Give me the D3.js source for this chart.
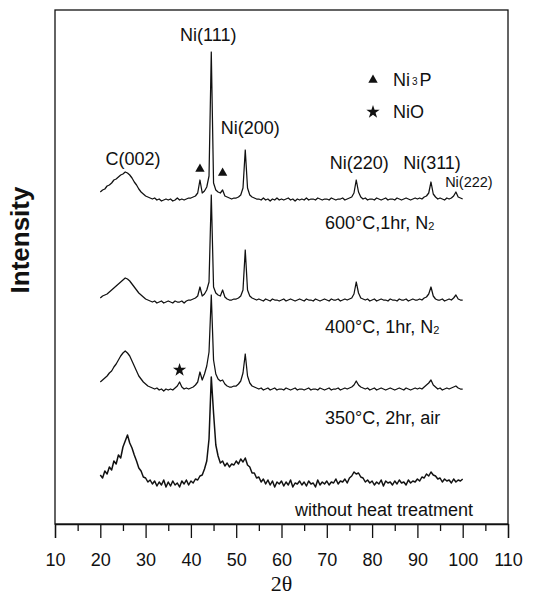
<!DOCTYPE html>
<html>
<head>
<meta charset="utf-8">
<script src="https://cdn.jsdelivr.net/npm/d3@7"></script>
<style>
  html, body { margin: 0; padding: 0; background: #fff; }
  svg { display: block; }
  text { font-family: "Liberation Sans", Arial, sans-serif; fill: #111; }
</style>
</head>
<body>
<svg id="chart" width="538" height="597"></svg>
<script>
// XRD patterns of Ni-coated carbon, sampled every 0.5° in 2θ from 20° to 100°.
const twoThetaStart = 20;
const twoThetaStep = 0.5;

const xTickValues = [10, 20, 30, 40, 50, 60, 70, 80, 90, 100, 110];
const xMinorTickValues = [15, 25, 35, 45, 55, 65, 75, 85, 95, 105];

const sampleLabels = ["600°C,1hr, N₂", "400°C, 1hr, N₂", "350°C, 2hr, air", "without heat treatment"];

// Vertical stacking offset of each pattern (a.u.)
const stackOffsets = [324, 222, 134, 39];

// Intensities above each pattern's own baseline (a.u.)
const pattern600N2 = [
  8, 10, 11, 14, 15, 17, 20, 21, 23, 25,
  26, 28, 27, 25, 22, 18, 15, 11, 8, 6,
  4, 3, 2, 1, 2, 0, 1, -1, 0, 1,
  0, 1, -1, 0, 2, 0, 1, 0, 1, 2,
  2, 3, 4, 7, 20, 7, 9, 13, 24, 148,
  17, 10, 8, 7, 10, 4, 3, 2, 1, 2,
  2, 3, 5, 12, 50, 12, 5, 3, 2, 1,
  1, 0, 2, 0, 1, -1, 1, 0, 2, 0,
  1, 0, 1, 2, 0, 1, -1, 1, 0, 1,
  0, 2, 0, 1, 1, 0, 2, 1, 0, 1,
  1, 0, 2, 1, 0, 1, 1, 2, 0, 1,
  2, 3, 7, 20, 8, 3, 1, 2, 0, 1,
  1, 0, 2, 1, 0, 1, 2, 0, 1, 1,
  0, 2, 1, 0, 1, 2, 1, 0, 1, 2,
  1, 2, 1, 3, 4, 7, 18, 6, 3, 1,
  2, 1, 0, 2, 1, 2, 4, 8, 3, 2,
  1
];

const pattern400N2 = [
  4, 6, 7, 8, 10, 12, 14, 16, 18, 20,
  22, 24, 23, 21, 18, 15, 12, 9, 7, 5,
  3, 2, 1, 0, 1, -1, 0, 1, -1, 0,
  1, 0, -1, 1, 0, 0, 1, -1, 1, 2,
  2, 3, 4, 6, 15, 6, 8, 12, 20, 107,
  15, 9, 7, 6, 12, 5, 3, 2, 2, 3,
  3, 4, 6, 12, 52, 12, 6, 4, 3, 2,
  3, 2, 1, 3, 2, 1, 3, 2, 2, 1,
  2, 3, 1, 2, 3, 2, 1, 2, 3, 2,
  1, 3, 2, 2, 1, 3, 2, 1, 2, 3,
  2, 1, 3, 2, 2, 3, 1, 2, 3, 2,
  3, 4, 8, 20, 9, 4, 3, 2, 3, 1,
  2, 3, 1, 2, 3, 2, 2, 1, 3, 2,
  2, 1, 3, 2, 2, 3, 1, 2, 3, 2,
  2, 3, 2, 4, 5, 8, 15, 6, 3, 2,
  2, 3, 1, 2, 3, 2, 4, 7, 3, 2,
  2
];

const pattern350Air = [
  8, 10, 12, 14, 17, 19, 23, 26, 30, 34,
  37, 39, 37, 34, 29, 24, 19, 14, 11, 8,
  6, 4, 3, 2, 1, 2, 0, 1, -1, 1,
  0, 1, 0, 2, 4, 8, 3, 1, 2, 1,
  2, 3, 5, 8, 18, 10, 16, 24, 38, 95,
  30, 16, 11, 9, 10, 6, 4, 3, 3, 4,
  4, 6, 9, 17, 36, 14, 7, 4, 3, 2,
  1, 2, 0, 1, 2, 0, 1, 2, 0, 1,
  1, 0, 2, 1, 0, 1, 2, 0, 1, 1,
  0, 1, 2, 0, 1, 1, 0, 2, 1, 0,
  1, 2, 0, 1, 1, 2, 0, 1, 2, 1,
  2, 3, 5, 9, 5, 3, 2, 1, 2, 0,
  1, 2, 0, 1, 2, 1, 0, 1, 2, 1,
  0, 1, 2, 1, 0, 2, 1, 0, 1, 2,
  1, 2, 1, 3, 5, 7, 10, 5, 3, 1,
  2, 0, 1, 2, 1, 2, 3, 4, 2, 1,
  1
];

const patternUntreated = [
  10, 7, 14, 11, 18, 15, 24, 21, 30, 27,
  38, 44, 50, 42, 37, 30, 24, 17, 14, 8,
  7, 3, 5, 1, 4, -1, 3, 0, 5, -2,
  3, -1, 4, 0, 2, -2, 4, 1, 5, 0,
  4, 2, 6, 5, 9, 10, 16, 24, 46, 108,
  72, 40, 29, 22, 24, 19, 22, 18, 21, 20,
  24, 21, 26, 23, 27, 20, 18, 12, 12, 7,
  8, 3, 6, 1, 5, 0, 4, -2, 3, 1,
  4, -1, 3, 0, 5, -2, 2, 1, 4, 0,
  3, -1, 4, 1, 2, -2, 5, 0, 3, 1,
  4, 0, 3, 2, 6, 1, 4, 3, 6, 2,
  7, 9, 13, 11, 12, 8, 7, 3, 5, 2,
  4, 0, 3, 1, 5, -1, 4, 2, 3, 0,
  4, 1, 5, 2, 3, 0, 5, 2, 4, 3,
  6, 4, 8, 7, 11, 9, 13, 10, 9, 6,
  7, 3, 6, 4, 5, 2, 6, 3, 5, 4,
  6
];

const patterns = [pattern600N2, pattern400N2, pattern350Air, patternUntreated];

// Reflection labels (2θ of the peak each one names)
const reflectionLabels = ["C(002)", "Ni(111)", "Ni(200)", "Ni(220)", "Ni(311)", "Ni(222)"];
const reflectionAngles = [25.7, 44.5, 52.0, 76.5, 93.0, 98.5];

// Phase markers
const ni3pAngles = [42.0, 47.0];
const nioAngles = [37.5];

const svg = d3.select("#chart");
const W = 538, H = 597;
const margin = { left: 55, right: 30, top: 10, bottom: 73 };
const plotBottom = H - margin.bottom;   // 524
const plotRight = W - margin.right;     // 508

const x = d3.scaleLinear().domain([10, 110]).range([margin.left, plotRight]);
const y = d3.scaleLinear().domain([0, 514]).range([plotBottom, margin.top]);

const angleAt = i => twoThetaStart + i * twoThetaStep;

// Frame
svg.append("rect")
  .attr("x", margin.left).attr("y", margin.top)
  .attr("width", plotRight - margin.left).attr("height", plotBottom - margin.top)
  .attr("fill", "none").attr("stroke", "#111").attr("stroke-width", 1.3);

// Bottom axis: major and minor ticks pointing outward
const xAxis = d3.axisBottom(x).tickValues(xTickValues).tickSize(14).tickPadding(15).tickFormat(d3.format("d"));
const gx = svg.append("g").attr("transform", `translate(0,${plotBottom})`).call(xAxis);
gx.select(".domain").attr("stroke", "#111").attr("stroke-width", 1.3);
gx.selectAll(".tick line").attr("stroke", "#111").attr("stroke-width", 1.3);
gx.selectAll(".tick text")
  .attr("font-size", 18).attr("font-family", "Liberation Sans, Arial, sans-serif").attr("fill", "#111");

const xMinor = d3.axisBottom(x).tickValues(xMinorTickValues).tickSize(7).tickFormat("");
const gxm = svg.append("g").attr("transform", `translate(0,${plotBottom})`).call(xMinor);
gxm.select(".domain").remove();
gxm.selectAll(".tick line").attr("stroke", "#111").attr("stroke-width", 1.3);

// Axis titles
svg.append("text")
  .attr("x", (margin.left + plotRight) / 2).attr("y", 591)
  .attr("text-anchor", "middle")
  .style("font-family", "Liberation Serif, 'Times New Roman', serif")
  .attr("font-size", 22)
  .text("2θ");

svg.append("text")
  .attr("transform", "translate(29,240) rotate(-90)")
  .attr("text-anchor", "middle")
  .attr("font-size", 26).attr("font-weight", "bold")
  .text("Intensity");

// Patterns
const line = d3.line().curve(d3.curveLinear);
patterns.forEach((p, k) => {
  const pts = p.map((v, i) => [x(angleAt(i)), y(v + stackOffsets[k])]);
  svg.append("path")
    .attr("d", line(pts))
    .attr("fill", "none")
    .attr("stroke", "#111")
    .attr("stroke-width", k === 3 ? 1.5 : 1.25)
    .attr("stroke-linejoin", "round");
});

// Sample condition labels (trailing "2" of N2 drawn as a subscript)
const condPos = [[325, 229], [325, 333], [325, 424], [295, 516]];
sampleLabels.forEach((lab, k) => {
  const t = svg.append("text")
    .attr("x", condPos[k][0]).attr("y", condPos[k][1])
    .attr("font-size", 18);
  if (lab.endsWith("N₂")) {
    t.append("tspan").text(lab.slice(0, -1));
    t.append("tspan").text("2").attr("font-size", 11).attr("dy", 1);
  } else {
    t.text(lab);
  }
});

// Reflection labels placed over the top pattern
const reflLabelY = [165, 41, 134, 169, 169, 187];
const reflLabelDx = [7, -3, 5, 3, 1, 13];
reflectionLabels.forEach((lab, k) => {
  svg.append("text")
    .attr("x", x(reflectionAngles[k]) + reflLabelDx[k])
    .attr("y", reflLabelY[k])
    .attr("text-anchor", "middle")
    .attr("font-size", k === 5 ? 14.5 : 18)
    .text(lab);
});

// Ni3P triangles above the top pattern, NiO star above the 350 °C pattern
const tri = d3.symbol().type(d3.symbolTriangle).size(38);
const star = d3.symbol().type(d3.symbolStar).size(55);
const idx = a => Math.round((a - twoThetaStart) / twoThetaStep);
ni3pAngles.forEach((a, k) => {
  const v = pattern600N2[idx(a)] + stackOffsets[0];
  svg.append("path").attr("d", tri)
    .attr("transform", `translate(${x(a)},${y(v) - (k === 0 ? 11 : 17)})`)
    .attr("fill", "#111");
});
nioAngles.forEach(a => {
  const v = pattern350Air[idx(a)] + stackOffsets[2];
  svg.append("path").attr("d", star)
    .attr("transform", `translate(${x(a)},${y(v) - 12})`)
    .attr("fill", "#111");
});

// Legend
const lg = svg.append("g").attr("transform", "translate(373,0)");
lg.append("path").attr("d", tri).attr("transform", "translate(0,80)").attr("fill", "#111");
const l1 = lg.append("text").attr("x", 20).attr("y", 86).attr("font-size", 18);
l1.append("tspan").text("Ni");
l1.append("tspan").text("3").attr("font-size", 10).attr("dx", 2).attr("dy", -1);
l1.append("tspan").text("P").attr("dx", 2).attr("dy", 1);
lg.append("path").attr("d", star).attr("transform", "translate(0,112)").attr("fill", "#111");
lg.append("text").attr("x", 20).attr("y", 118).attr("font-size", 18).text("NiO");
</script>
</body>
</html>
